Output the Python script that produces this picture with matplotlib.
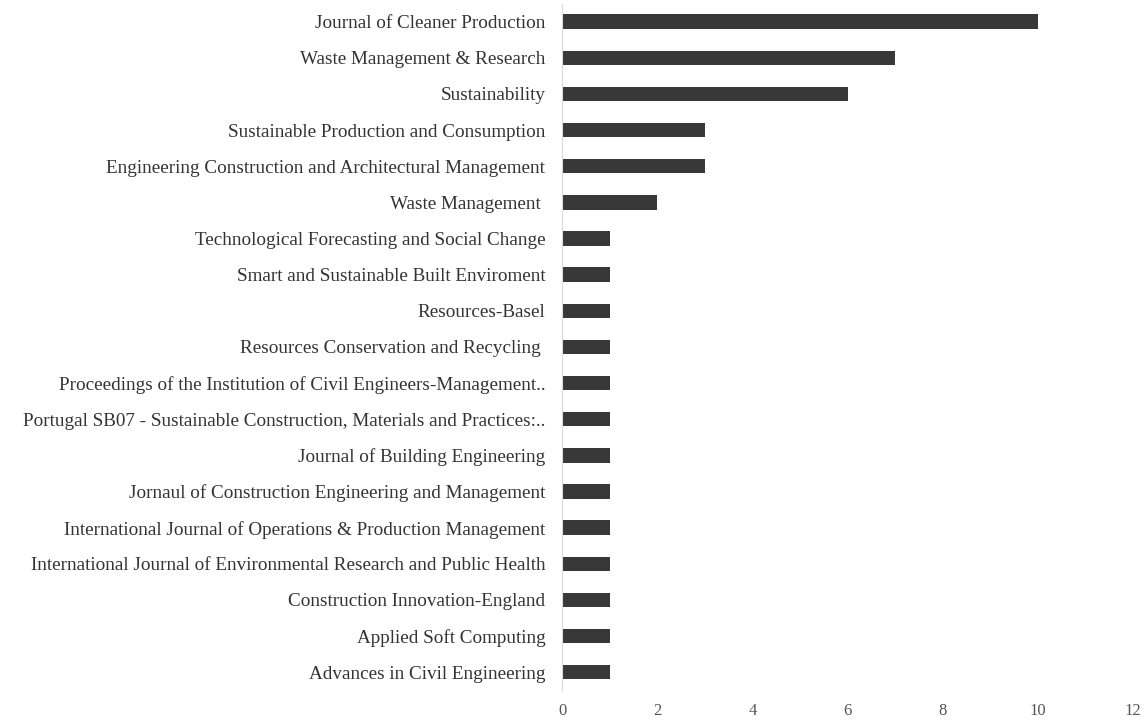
import matplotlib.pyplot as plt

journals = [
    "Journal of Cleaner Production",
    "Waste Management & Research",
    "Sustainability",
    "Sustainable Production and Consumption",
    "Engineering Construction and Architectural Management",
    "Waste Management ",
    "Technological Forecasting and Social Change",
    "Smart and Sustainable Built Enviroment",
    "Resources-Basel",
    "Resources Conservation and Recycling ",
    "Proceedings of the Institution of Civil Engineers-Management..",
    "Portugal SB07 - Sustainable Construction, Materials and Practices:..",
    "Journal of Building Engineering",
    "Jornaul of Construction Engineering and Management",
    "International Journal of Operations & Production Management",
    "International Journal of Environmental Research and Public Health",
    "Construction Innovation-England",
    "Applied Soft Computing",
    "Advances in Civil Engineering",
]
counts = [10, 7, 6, 3, 3, 2, 1, 1, 1, 1, 1, 1, 1, 1, 1, 1, 1, 1, 1]
xticks = [0, 2, 4, 6, 8, 10, 12]

plt.rcParams['font.family'] = ['Liberation Serif', 'DejaVu Serif']

fig = plt.figure(figsize=(11.47, 7.22), dpi=100)
ax = fig.add_axes([0.49, 0.044, 0.498, 0.951])

ypos = list(range(len(journals)))[::-1]
ax.barh(ypos, counts, height=0.4, color='#383838')

ax.set_yticks(ypos)
ax.set_yticklabels(journals, fontsize=13.8, color='#333333')
ax.set_xlim(0, 12)
ax.set_ylim(-0.5, len(journals) - 0.5)
ax.set_xticks(xticks)
ax.set_xticklabels([str(t) for t in xticks], fontsize=12, color='#555555')

for s in ['top', 'right', 'bottom']:
    ax.spines[s].set_visible(False)
ax.spines['left'].set_color('#d9d9d9')
ax.tick_params(axis='both', length=0)
ax.tick_params(axis='y', pad=12)
ax.tick_params(axis='x', pad=9)

fig.savefig('out.png', dpi=100)
